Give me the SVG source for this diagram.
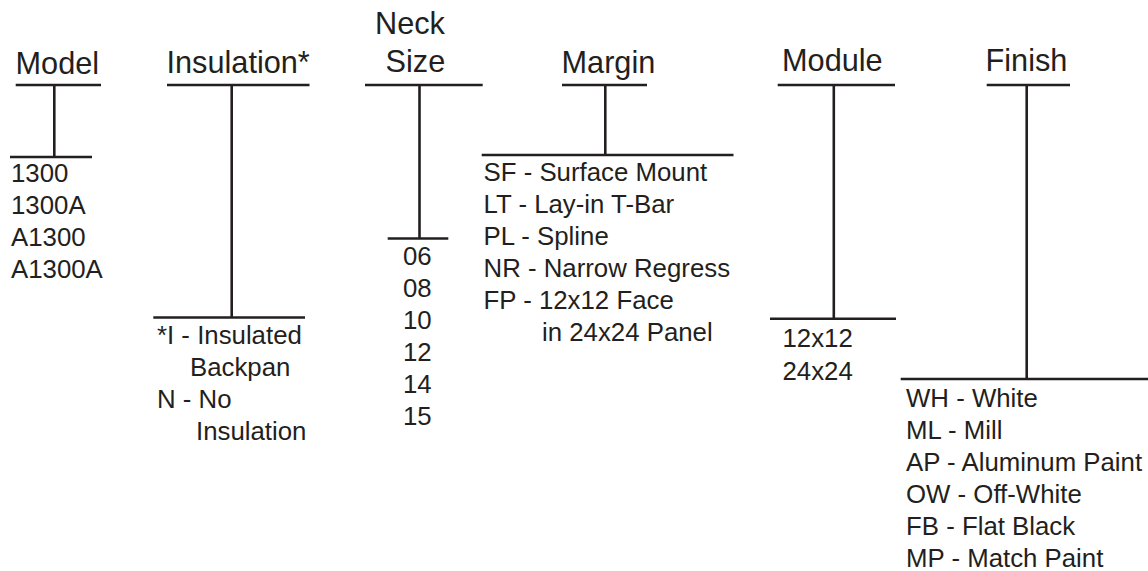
<svg xmlns="http://www.w3.org/2000/svg" width="1148" height="571" viewBox="0 0 1148 571">
<style>
text{font-family:"Liberation Sans",Arial,Helvetica,sans-serif;fill:#231f20}
.t{font-size:30.7px}
.i{font-size:25.8px}
.c line{stroke:#231f20;stroke-width:2.6}
</style>
<rect width="1148" height="571" fill="#ffffff"/>
<g id="connectors" class="c">
<line x1="15.7" y1="85" x2="101" y2="85"/>
<line x1="54.3" y1="85" x2="54.3" y2="157"/>
<line x1="10" y1="157" x2="92" y2="157"/>
<line x1="167" y1="85" x2="309.5" y2="85"/>
<line x1="231.7" y1="85" x2="231.7" y2="317.5"/>
<line x1="153.3" y1="317.5" x2="305" y2="317.5"/>
<line x1="365" y1="85" x2="482.7" y2="85"/>
<line x1="419.5" y1="85" x2="419.5" y2="238.5"/>
<line x1="387.7" y1="238.5" x2="448.3" y2="238.5"/>
<line x1="562" y1="85" x2="647" y2="85"/>
<line x1="605.3" y1="85" x2="605.3" y2="155"/>
<line x1="481.7" y1="155" x2="733.5" y2="155"/>
<line x1="777.7" y1="85" x2="895" y2="85"/>
<line x1="833.8" y1="85" x2="833.8" y2="318.7"/>
<line x1="770" y1="318.7" x2="896" y2="318.7"/>
<line x1="986.7" y1="85" x2="1070" y2="85"/>
<line x1="1026.7" y1="85" x2="1026.7" y2="379"/>
<line x1="900.7" y1="379" x2="1148" y2="379"/>
</g>
<g id="model">
<text class="t" x="15.5" y="74">Model</text>
<text class="i" x="11" y="182">1300</text>
<text class="i" x="11" y="214">1300A</text>
<text class="i" x="11" y="246">A1300</text>
<text class="i" x="11" y="278">A1300A</text>
</g>
<g id="insulation">
<text class="t" x="166.5" y="73">Insulation*</text>
<text class="i" x="157" y="343.5">*I - Insulated</text>
<text class="i" x="190" y="375.5">Backpan</text>
<text class="i" x="157" y="407.5">N - No</text>
<text class="i" x="196" y="440">Insulation</text>
</g>
<g id="neck-size">
<text class="t" x="375" y="34">Neck</text>
<text class="t" x="385.5" y="72">Size</text>
<text class="i" x="403" y="264.5">06</text>
<text class="i" x="403" y="296.5">08</text>
<text class="i" x="403" y="328.5">10</text>
<text class="i" x="403" y="360.5">12</text>
<text class="i" x="403" y="392.5">14</text>
<text class="i" x="403" y="424.5">15</text>
</g>
<g id="margin">
<text class="t" x="561.5" y="73">Margin</text>
<text class="i" x="483.5" y="181">SF - Surface Mount</text>
<text class="i" x="483.5" y="213">LT - Lay-in T-Bar</text>
<text class="i" x="483.5" y="245">PL - Spline</text>
<text class="i" x="483.5" y="277">NR - Narrow Regress</text>
<text class="i" x="483.5" y="309">FP - 12x12 Face</text>
<text class="i" x="542" y="341">in 24x24 Panel</text>
</g>
<g id="module">
<text class="t" x="782" y="71">Module</text>
<text class="i" x="782.5" y="347">12x12</text>
<text class="i" x="782.5" y="379.5">24x24</text>
</g>
<g id="finish">
<text class="t" x="985.5" y="71">Finish</text>
<text class="i" x="906" y="407">WH - White</text>
<text class="i" x="906" y="439">ML - Mill</text>
<text class="i" x="906" y="471">AP - Aluminum Paint</text>
<text class="i" x="906" y="503">OW - Off-White</text>
<text class="i" x="906" y="535">FB - Flat Black</text>
<text class="i" x="906" y="567">MP - Match Paint</text>
</g>
</svg>
